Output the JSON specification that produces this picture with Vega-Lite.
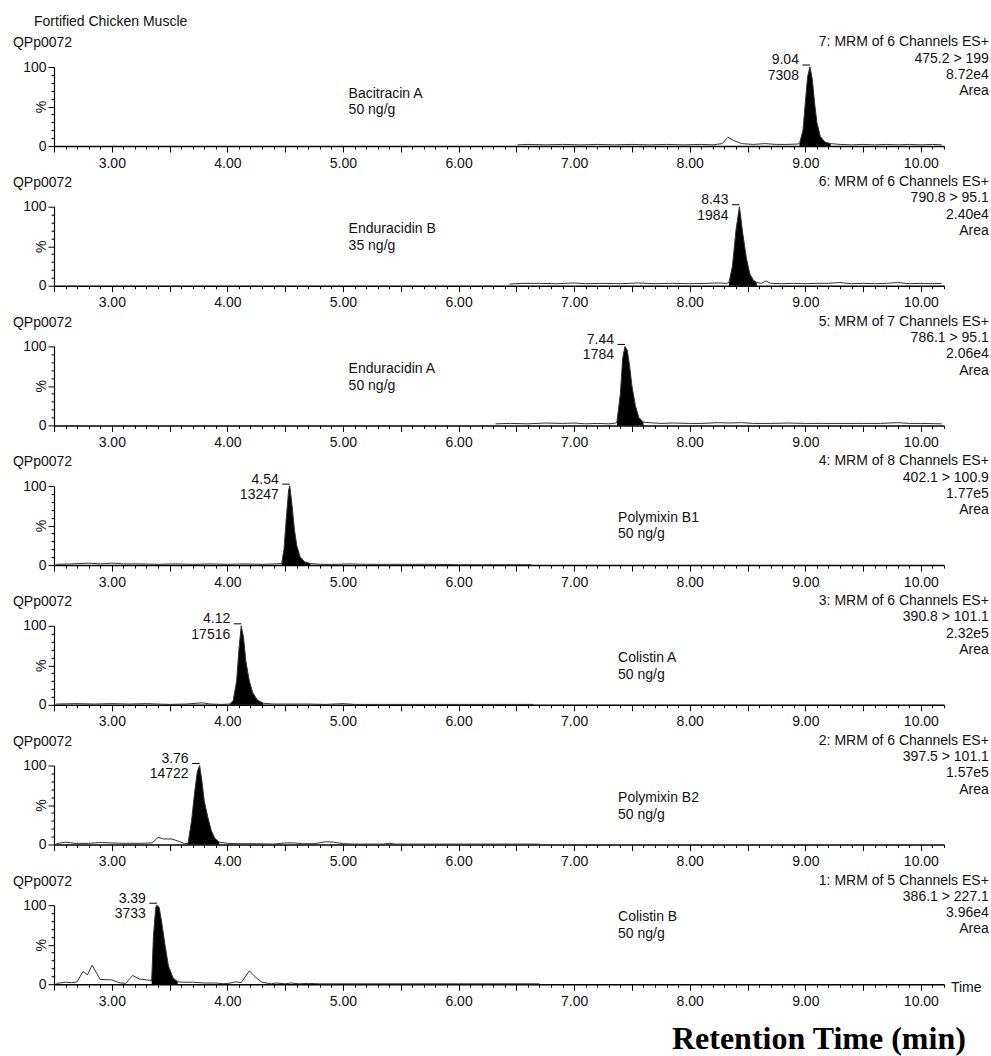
{
 "$schema": "https://vega.github.io/schema/vega-lite/v6.json",
 "padding": {"left": 12, "top": 15, "right": 0, "bottom": 0},
 "background": "white",
 "config": {"view": {"stroke": null}, "font": "Liberation Sans"},
 "data": {"values": [
  {"p":1,"k":"tr","t":6.51,"v":1.5},{"p":1,"k":"tr","t":6.6,"v":2},{"p":1,"k":"tr","t":6.75,"v":1.5},{"p":1,"k":"tr","t":6.9,"v":2},{"p":1,"k":"tr","t":7.05,"v":1.5},{"p":1,"k":"tr","t":7.2,"v":2},{"p":1,"k":"tr","t":7.35,"v":1.5},{"p":1,"k":"tr","t":7.5,"v":2},{"p":1,"k":"tr","t":7.65,"v":1.5},{"p":1,"k":"tr","t":7.8,"v":2},{"p":1,"k":"tr","t":7.95,"v":1.5},{"p":1,"k":"tr","t":8.1,"v":2},{"p":1,"k":"tr","t":8.2,"v":1.5},{"p":1,"k":"tr","t":8.28,"v":3},{"p":1,"k":"tr","t":8.33,"v":11},{"p":1,"k":"tr","t":8.38,"v":7},{"p":1,"k":"tr","t":8.45,"v":3},{"p":1,"k":"tr","t":8.55,"v":2},{"p":1,"k":"tr","t":8.65,"v":3},{"p":1,"k":"tr","t":8.75,"v":2},{"p":1,"k":"tr","t":8.85,"v":2},{"p":1,"k":"tr","t":8.93,"v":2.5},
  {"p":1,"k":"tr","t":8.95,"v":3,"f":1},{"p":1,"k":"tr","t":8.98,"v":20,"f":1},{"p":1,"k":"tr","t":9.0,"v":55,"f":1},{"p":1,"k":"tr","t":9.02,"v":88,"f":1},{"p":1,"k":"tr","t":9.04,"v":100,"f":1},{"p":1,"k":"tr","t":9.06,"v":85,"f":1},{"p":1,"k":"tr","t":9.08,"v":55,"f":1},{"p":1,"k":"tr","t":9.1,"v":30,"f":1},{"p":1,"k":"tr","t":9.13,"v":12,"f":1},{"p":1,"k":"tr","t":9.17,"v":5,"f":1},{"p":1,"k":"tr","t":9.22,"v":3,"f":1},
  {"p":1,"k":"tr","t":9.3,"v":2},{"p":1,"k":"tr","t":9.4,"v":1.5},{"p":1,"k":"tr","t":9.5,"v":2},{"p":1,"k":"tr","t":9.6,"v":1.5},{"p":1,"k":"tr","t":9.7,"v":2},{"p":1,"k":"tr","t":9.8,"v":1.5},{"p":1,"k":"tr","t":9.9,"v":2},{"p":1,"k":"tr","t":10.0,"v":1.5},{"p":1,"k":"tr","t":10.1,"v":2},{"p":1,"k":"tr","t":10.18,"v":1.5},

  {"p":2,"k":"tr","t":6.44,"v":2},{"p":2,"k":"tr","t":6.55,"v":3},{"p":2,"k":"tr","t":6.7,"v":3},{"p":2,"k":"tr","t":6.85,"v":2.5},{"p":2,"k":"tr","t":7.0,"v":3.5},{"p":2,"k":"tr","t":7.1,"v":2.5},{"p":2,"k":"tr","t":7.25,"v":3},{"p":2,"k":"tr","t":7.4,"v":2.5},{"p":2,"k":"tr","t":7.55,"v":3.5},{"p":2,"k":"tr","t":7.7,"v":2.5},{"p":2,"k":"tr","t":7.85,"v":3},{"p":2,"k":"tr","t":8.0,"v":2.5},{"p":2,"k":"tr","t":8.15,"v":3},{"p":2,"k":"tr","t":8.25,"v":3.5},{"p":2,"k":"tr","t":8.32,"v":3},
  {"p":2,"k":"tr","t":8.34,"v":4,"f":1},{"p":2,"k":"tr","t":8.37,"v":25,"f":1},{"p":2,"k":"tr","t":8.4,"v":70,"f":1},{"p":2,"k":"tr","t":8.43,"v":100,"f":1},{"p":2,"k":"tr","t":8.46,"v":65,"f":1},{"p":2,"k":"tr","t":8.49,"v":35,"f":1},{"p":2,"k":"tr","t":8.52,"v":15,"f":1},{"p":2,"k":"tr","t":8.55,"v":7,"f":1},{"p":2,"k":"tr","t":8.58,"v":4,"f":1},
  {"p":2,"k":"tr","t":8.62,"v":3},{"p":2,"k":"tr","t":8.66,"v":6},{"p":2,"k":"tr","t":8.7,"v":3},{"p":2,"k":"tr","t":8.8,"v":2.5},{"p":2,"k":"tr","t":8.9,"v":3},{"p":2,"k":"tr","t":9.0,"v":2.5},{"p":2,"k":"tr","t":9.1,"v":3},{"p":2,"k":"tr","t":9.2,"v":3},{"p":2,"k":"tr","t":9.3,"v":4},{"p":2,"k":"tr","t":9.4,"v":2.5},{"p":2,"k":"tr","t":9.5,"v":3},{"p":2,"k":"tr","t":9.6,"v":2.5},{"p":2,"k":"tr","t":9.7,"v":3},{"p":2,"k":"tr","t":9.8,"v":4},{"p":2,"k":"tr","t":9.9,"v":2.5},{"p":2,"k":"tr","t":10.0,"v":3},{"p":2,"k":"tr","t":10.1,"v":2.5},{"p":2,"k":"tr","t":10.18,"v":3},

  {"p":3,"k":"tr","t":6.32,"v":2},{"p":3,"k":"tr","t":6.45,"v":2.5},{"p":3,"k":"tr","t":6.6,"v":2},{"p":3,"k":"tr","t":6.75,"v":3},{"p":3,"k":"tr","t":6.9,"v":2.5},{"p":3,"k":"tr","t":7.0,"v":3},{"p":3,"k":"tr","t":7.1,"v":2},{"p":3,"k":"tr","t":7.2,"v":2.5},{"p":3,"k":"tr","t":7.3,"v":2},{"p":3,"k":"tr","t":7.35,"v":2.5},
  {"p":3,"k":"tr","t":7.37,"v":4,"f":1},{"p":3,"k":"tr","t":7.4,"v":40,"f":1},{"p":3,"k":"tr","t":7.42,"v":85,"f":1},{"p":3,"k":"tr","t":7.44,"v":100,"f":1},{"p":3,"k":"tr","t":7.46,"v":95,"f":1},{"p":3,"k":"tr","t":7.48,"v":75,"f":1},{"p":3,"k":"tr","t":7.5,"v":50,"f":1},{"p":3,"k":"tr","t":7.53,"v":25,"f":1},{"p":3,"k":"tr","t":7.56,"v":10,"f":1},{"p":3,"k":"tr","t":7.6,"v":4,"f":1},
  {"p":3,"k":"tr","t":7.65,"v":3.5},{"p":3,"k":"tr","t":7.75,"v":2.5},{"p":3,"k":"tr","t":7.85,"v":3},{"p":3,"k":"tr","t":8.0,"v":2.5},{"p":3,"k":"tr","t":8.1,"v":2.5},{"p":3,"k":"tr","t":8.25,"v":3.5},{"p":3,"k":"tr","t":8.35,"v":3},{"p":3,"k":"tr","t":8.45,"v":3.5},{"p":3,"k":"tr","t":8.55,"v":2.5},{"p":3,"k":"tr","t":8.7,"v":2.5},{"p":3,"k":"tr","t":8.85,"v":3},{"p":3,"k":"tr","t":9.0,"v":2.5},{"p":3,"k":"tr","t":9.15,"v":2.5},{"p":3,"k":"tr","t":9.3,"v":2.5},{"p":3,"k":"tr","t":9.5,"v":2.5},{"p":3,"k":"tr","t":9.65,"v":2.5},{"p":3,"k":"tr","t":9.8,"v":3.5},{"p":3,"k":"tr","t":9.9,"v":2.5},{"p":3,"k":"tr","t":10.0,"v":2.5},{"p":3,"k":"tr","t":10.18,"v":2},

  {"p":4,"k":"tr","t":2.52,"v":1},{"p":4,"k":"tr","t":2.65,"v":1.5},{"p":4,"k":"tr","t":2.8,"v":2.5},{"p":4,"k":"tr","t":2.9,"v":1.5},{"p":4,"k":"tr","t":3.0,"v":2.5},{"p":4,"k":"tr","t":3.1,"v":1.5},{"p":4,"k":"tr","t":3.25,"v":1.5},{"p":4,"k":"tr","t":3.4,"v":1},{"p":4,"k":"tr","t":3.55,"v":1.5},{"p":4,"k":"tr","t":3.7,"v":1},{"p":4,"k":"tr","t":3.85,"v":1.5},{"p":4,"k":"tr","t":4.0,"v":1},{"p":4,"k":"tr","t":4.15,"v":1.5},{"p":4,"k":"tr","t":4.3,"v":1},{"p":4,"k":"tr","t":4.42,"v":1.5},
  {"p":4,"k":"tr","t":4.47,"v":2,"f":1},{"p":4,"k":"tr","t":4.49,"v":20,"f":1},{"p":4,"k":"tr","t":4.51,"v":60,"f":1},{"p":4,"k":"tr","t":4.53,"v":95,"f":1},{"p":4,"k":"tr","t":4.54,"v":100,"f":1},{"p":4,"k":"tr","t":4.56,"v":75,"f":1},{"p":4,"k":"tr","t":4.58,"v":45,"f":1},{"p":4,"k":"tr","t":4.6,"v":25,"f":1},{"p":4,"k":"tr","t":4.63,"v":10,"f":1},{"p":4,"k":"tr","t":4.67,"v":4,"f":1},{"p":4,"k":"tr","t":4.72,"v":2,"f":1},
  {"p":4,"k":"tr","t":4.8,"v":1},{"p":4,"k":"tr","t":4.95,"v":1},{"p":4,"k":"tr","t":5.05,"v":1.5},{"p":4,"k":"tr","t":5.2,"v":1},{"p":4,"k":"tr","t":5.4,"v":1},{"p":4,"k":"tr","t":5.6,"v":1},{"p":4,"k":"tr","t":5.8,"v":1},{"p":4,"k":"tr","t":6.0,"v":0.5},{"p":4,"k":"tr","t":6.2,"v":0.5},{"p":4,"k":"tr","t":6.4,"v":0.5},{"p":4,"k":"tr","t":6.63,"v":0.5},

  {"p":5,"k":"tr","t":2.52,"v":1},{"p":5,"k":"tr","t":2.7,"v":1.5},{"p":5,"k":"tr","t":2.85,"v":1},{"p":5,"k":"tr","t":3.0,"v":1.5},{"p":5,"k":"tr","t":3.15,"v":1},{"p":5,"k":"tr","t":3.3,"v":1.5},{"p":5,"k":"tr","t":3.4,"v":1},{"p":5,"k":"tr","t":3.5,"v":0.5},{"p":5,"k":"tr","t":3.65,"v":1},{"p":5,"k":"tr","t":3.78,"v":2.5},{"p":5,"k":"tr","t":3.85,"v":1},{"p":5,"k":"tr","t":3.95,"v":0.5},
  {"p":5,"k":"tr","t":4.02,"v":1,"f":1},{"p":5,"k":"tr","t":4.05,"v":5,"f":1},{"p":5,"k":"tr","t":4.08,"v":30,"f":1},{"p":5,"k":"tr","t":4.1,"v":70,"f":1},{"p":5,"k":"tr","t":4.12,"v":100,"f":1},{"p":5,"k":"tr","t":4.14,"v":85,"f":1},{"p":5,"k":"tr","t":4.16,"v":55,"f":1},{"p":5,"k":"tr","t":4.19,"v":30,"f":1},{"p":5,"k":"tr","t":4.22,"v":15,"f":1},{"p":5,"k":"tr","t":4.26,"v":6,"f":1},{"p":5,"k":"tr","t":4.31,"v":2,"f":1},
  {"p":5,"k":"tr","t":4.4,"v":1},{"p":5,"k":"tr","t":4.55,"v":1},{"p":5,"k":"tr","t":4.7,"v":1},{"p":5,"k":"tr","t":4.85,"v":0.5},{"p":5,"k":"tr","t":5.0,"v":1.5},{"p":5,"k":"tr","t":5.1,"v":0.5},{"p":5,"k":"tr","t":5.3,"v":0.5},{"p":5,"k":"tr","t":5.6,"v":0.5},{"p":5,"k":"tr","t":6.0,"v":0.5},{"p":5,"k":"tr","t":6.3,"v":0.5},{"p":5,"k":"tr","t":6.65,"v":0.5},

  {"p":6,"k":"tr","t":2.52,"v":1},{"p":6,"k":"tr","t":2.6,"v":3},{"p":6,"k":"tr","t":2.68,"v":1.5},{"p":6,"k":"tr","t":2.8,"v":1.5},{"p":6,"k":"tr","t":2.9,"v":2.5},{"p":6,"k":"tr","t":3.0,"v":2},{"p":6,"k":"tr","t":3.1,"v":1.5},{"p":6,"k":"tr","t":3.25,"v":1.5},{"p":6,"k":"tr","t":3.35,"v":2},{"p":6,"k":"tr","t":3.4,"v":9},{"p":6,"k":"tr","t":3.45,"v":7},{"p":6,"k":"tr","t":3.52,"v":7},{"p":6,"k":"tr","t":3.58,"v":4},{"p":6,"k":"tr","t":3.63,"v":1},
  {"p":6,"k":"tr","t":3.66,"v":1.5,"f":1},{"p":6,"k":"tr","t":3.69,"v":30,"f":1},{"p":6,"k":"tr","t":3.72,"v":70,"f":1},{"p":6,"k":"tr","t":3.74,"v":92,"f":1},{"p":6,"k":"tr","t":3.76,"v":100,"f":1},{"p":6,"k":"tr","t":3.78,"v":80,"f":1},{"p":6,"k":"tr","t":3.8,"v":55,"f":1},{"p":6,"k":"tr","t":3.83,"v":35,"f":1},{"p":6,"k":"tr","t":3.86,"v":18,"f":1},{"p":6,"k":"tr","t":3.89,"v":8,"f":1},{"p":6,"k":"tr","t":3.93,"v":3,"f":1},
  {"p":6,"k":"tr","t":4.0,"v":1.5},{"p":6,"k":"tr","t":4.1,"v":1},{"p":6,"k":"tr","t":4.25,"v":1},{"p":6,"k":"tr","t":4.4,"v":0.5},{"p":6,"k":"tr","t":4.5,"v":2},{"p":6,"k":"tr","t":4.58,"v":2},{"p":6,"k":"tr","t":4.65,"v":1},{"p":6,"k":"tr","t":4.75,"v":1},{"p":6,"k":"tr","t":4.85,"v":3.5},{"p":6,"k":"tr","t":4.92,"v":3},{"p":6,"k":"tr","t":5.0,"v":1},{"p":6,"k":"tr","t":5.1,"v":0.5},{"p":6,"k":"tr","t":5.35,"v":0.5},{"p":6,"k":"tr","t":5.4,"v":1.5},{"p":6,"k":"tr","t":5.45,"v":0.5},{"p":6,"k":"tr","t":5.7,"v":0.5},{"p":6,"k":"tr","t":6.0,"v":0.5},{"p":6,"k":"tr","t":6.35,"v":0.5},{"p":6,"k":"tr","t":6.7,"v":0.5},

  {"p":7,"k":"tr","t":2.52,"v":1},{"p":7,"k":"tr","t":2.6,"v":2.5},{"p":7,"k":"tr","t":2.65,"v":2},{"p":7,"k":"tr","t":2.7,"v":3},{"p":7,"k":"tr","t":2.75,"v":16},{"p":7,"k":"tr","t":2.79,"v":12},{"p":7,"k":"tr","t":2.83,"v":24},{"p":7,"k":"tr","t":2.9,"v":6},{"p":7,"k":"tr","t":3.0,"v":5.5},{"p":7,"k":"tr","t":3.06,"v":2},{"p":7,"k":"tr","t":3.12,"v":1},{"p":7,"k":"tr","t":3.18,"v":11},{"p":7,"k":"tr","t":3.24,"v":6.5},{"p":7,"k":"tr","t":3.3,"v":5.5},{"p":7,"k":"tr","t":3.33,"v":5},
  {"p":7,"k":"tr","t":3.345,"v":4,"f":1},{"p":7,"k":"tr","t":3.36,"v":60,"f":1},{"p":7,"k":"tr","t":3.38,"v":97,"f":1},{"p":7,"k":"tr","t":3.39,"v":100,"f":1},{"p":7,"k":"tr","t":3.41,"v":97,"f":1},{"p":7,"k":"tr","t":3.43,"v":80,"f":1},{"p":7,"k":"tr","t":3.46,"v":50,"f":1},{"p":7,"k":"tr","t":3.49,"v":23,"f":1},{"p":7,"k":"tr","t":3.53,"v":8,"f":1},{"p":7,"k":"tr","t":3.57,"v":3,"f":1},
  {"p":7,"k":"tr","t":3.62,"v":2.5},{"p":7,"k":"tr","t":3.7,"v":2.5},{"p":7,"k":"tr","t":3.8,"v":1.5},{"p":7,"k":"tr","t":3.9,"v":1.5},{"p":7,"k":"tr","t":3.97,"v":0.5},{"p":7,"k":"tr","t":4.03,"v":1.5},{"p":7,"k":"tr","t":4.07,"v":3},{"p":7,"k":"tr","t":4.12,"v":2},{"p":7,"k":"tr","t":4.19,"v":17},{"p":7,"k":"tr","t":4.25,"v":8},{"p":7,"k":"tr","t":4.3,"v":2.5},{"p":7,"k":"tr","t":4.38,"v":0.5},{"p":7,"k":"tr","t":4.42,"v":1.5},{"p":7,"k":"tr","t":4.5,"v":0.5},{"p":7,"k":"tr","t":4.55,"v":1.5},{"p":7,"k":"tr","t":4.62,"v":0.5},{"p":7,"k":"tr","t":4.7,"v":1},{"p":7,"k":"tr","t":4.8,"v":0.5},{"p":7,"k":"tr","t":5.0,"v":0.5},{"p":7,"k":"tr","t":5.5,"v":0.5},{"p":7,"k":"tr","t":6.0,"v":0.5},{"p":7,"k":"tr","t":6.7,"v":0.5},

  {"p":1,"k":"L","t":2.327,"v":151.5,"s":"Fortified Chicken Muscle"},
  {"p":1,"k":"L","t":2.145,"v":124.9,"s":"QPp0072"},{"p":2,"k":"L","t":2.145,"v":124.9,"s":"QPp0072"},{"p":3,"k":"L","t":2.145,"v":124.9,"s":"QPp0072"},{"p":4,"k":"L","t":2.145,"v":124.9,"s":"QPp0072"},{"p":5,"k":"L","t":2.145,"v":124.9,"s":"QPp0072"},{"p":6,"k":"L","t":2.145,"v":124.9,"s":"QPp0072"},{"p":7,"k":"L","t":2.145,"v":124.9,"s":"QPp0072"},
  {"p":1,"k":"L","t":5.049,"v":60.8,"s":"Bacitracin A"},{"p":1,"k":"L","t":5.049,"v":39.9,"s":"50 ng/g"},
  {"p":2,"k":"L","t":5.049,"v":66.3,"s":"Enduracidin B"},{"p":2,"k":"L","t":5.049,"v":45.4,"s":"35 ng/g"},
  {"p":3,"k":"L","t":5.049,"v":65.9,"s":"Enduracidin A"},{"p":3,"k":"L","t":5.049,"v":45,"s":"50 ng/g"},
  {"p":4,"k":"L","t":7.38,"v":54.6,"s":"Polymixin B1"},{"p":4,"k":"L","t":7.38,"v":33.7,"s":"50 ng/g"},
  {"p":5,"k":"L","t":7.38,"v":53.8,"s":"Colistin A"},{"p":5,"k":"L","t":7.38,"v":32.9,"s":"50 ng/g"},
  {"p":6,"k":"L","t":7.38,"v":53.4,"s":"Polymixin B2"},{"p":6,"k":"L","t":7.38,"v":32.5,"s":"50 ng/g"},
  {"p":7,"k":"L","t":7.38,"v":79.6,"s":"Colistin B"},{"p":7,"k":"L","t":7.38,"v":58.7,"s":"50 ng/g"},
  {"p":7,"k":"L","t":10.26,"v":-9.5,"s":"Time"},

  {"p":1,"k":"R","t":10.588,"v":126.2,"s":"7: MRM of 6 Channels ES+"},{"p":1,"k":"R","t":10.588,"v":105.6,"s":"475.2 > 199"},{"p":1,"k":"R","t":10.588,"v":85,"s":"8.72e4"},{"p":1,"k":"R","t":10.588,"v":64.4,"s":"Area"},
  {"p":2,"k":"R","t":10.588,"v":126.2,"s":"6: MRM of 6 Channels ES+"},{"p":2,"k":"R","t":10.588,"v":105.6,"s":"790.8 > 95.1"},{"p":2,"k":"R","t":10.588,"v":85,"s":"2.40e4"},{"p":2,"k":"R","t":10.588,"v":64.4,"s":"Area"},
  {"p":3,"k":"R","t":10.588,"v":126.2,"s":"5: MRM of 7 Channels ES+"},{"p":3,"k":"R","t":10.588,"v":105.6,"s":"786.1 > 95.1"},{"p":3,"k":"R","t":10.588,"v":85,"s":"2.06e4"},{"p":3,"k":"R","t":10.588,"v":64.4,"s":"Area"},
  {"p":4,"k":"R","t":10.588,"v":126.2,"s":"4: MRM of 8 Channels ES+"},{"p":4,"k":"R","t":10.588,"v":105.6,"s":"402.1 > 100.9"},{"p":4,"k":"R","t":10.588,"v":85,"s":"1.77e5"},{"p":4,"k":"R","t":10.588,"v":64.4,"s":"Area"},
  {"p":5,"k":"R","t":10.588,"v":126.2,"s":"3: MRM of 6 Channels ES+"},{"p":5,"k":"R","t":10.588,"v":105.6,"s":"390.8 > 101.1"},{"p":5,"k":"R","t":10.588,"v":85,"s":"2.32e5"},{"p":5,"k":"R","t":10.588,"v":64.4,"s":"Area"},
  {"p":6,"k":"R","t":10.588,"v":126.2,"s":"2: MRM of 6 Channels ES+"},{"p":6,"k":"R","t":10.588,"v":105.6,"s":"397.5 > 101.1"},{"p":6,"k":"R","t":10.588,"v":85,"s":"1.57e5"},{"p":6,"k":"R","t":10.588,"v":64.4,"s":"Area"},
  {"p":7,"k":"R","t":10.588,"v":126.2,"s":"1: MRM of 5 Channels ES+"},{"p":7,"k":"R","t":10.588,"v":105.6,"s":"386.1 > 227.1"},{"p":7,"k":"R","t":10.588,"v":85,"s":"3.96e4"},{"p":7,"k":"R","t":10.588,"v":64.4,"s":"Area"},

  {"p":1,"k":"R","t":8.945,"v":103.2,"s":"9.04"},{"p":1,"k":"R","t":8.945,"v":83.6,"s":"7308"},
  {"p":2,"k":"R","t":8.335,"v":103.2,"s":"8.43"},{"p":2,"k":"R","t":8.335,"v":83.6,"s":"1984"},
  {"p":3,"k":"R","t":7.345,"v":103.2,"s":"7.44"},{"p":3,"k":"R","t":7.345,"v":83.6,"s":"1784"},
  {"p":4,"k":"R","t":4.445,"v":103.2,"s":"4.54"},{"p":4,"k":"R","t":4.445,"v":83.6,"s":"13247"},
  {"p":5,"k":"R","t":4.025,"v":103.2,"s":"4.12"},{"p":5,"k":"R","t":4.025,"v":83.6,"s":"17516"},
  {"p":6,"k":"R","t":3.665,"v":103.2,"s":"3.76"},{"p":6,"k":"R","t":3.665,"v":83.6,"s":"14722"},
  {"p":7,"k":"R","t":3.295,"v":103.2,"s":"3.39"},{"p":7,"k":"R","t":3.295,"v":83.6,"s":"3733"},

  {"p":1,"k":"d","t":8.975,"t2":9.04,"v":102.5},{"p":2,"k":"d","t":8.365,"t2":8.43,"v":102.5},{"p":3,"k":"d","t":7.375,"t2":7.44,"v":102.5},{"p":4,"k":"d","t":4.475,"t2":4.54,"v":102.5},{"p":5,"k":"d","t":4.055,"t2":4.12,"v":102.5},{"p":6,"k":"d","t":3.695,"t2":3.76,"v":102.5},{"p":7,"k":"d","t":3.325,"t2":3.39,"v":102.5},

  {"p":7,"k":"B","t":10.389,"v":-82.5,"s":"Retention Time (min)"}
 ]},
 "facet": {"row": {"field": "p", "type": "ordinal", "header": null}},
 "spacing": {"row": 60.7},
 "bounds": "flush",
 "resolve": {"axis": {"x": "independent", "y": "independent"}},
 "spec": {
  "width": 890,
  "height": 79,
  "encoding": {
   "x": {"field": "t", "type": "quantitative",
    "scale": {"domain": [2.5, 10.2], "nice": false, "zero": false},
    "axis": {
     "values": [2.5,2.6,2.7,2.8,2.9,3,3.1,3.2,3.3,3.4,3.5,3.6,3.7,3.8,3.9,4,4.1,4.2,4.3,4.4,4.5,4.6,4.7,4.8,4.9,5,5.1,5.2,5.3,5.4,5.5,5.6,5.7,5.8,5.9,6,6.1,6.2,6.3,6.4,6.5,6.6,6.7,6.8,6.9,7,7.1,7.2,7.3,7.4,7.5,7.6,7.7,7.8,7.9,8,8.1,8.2,8.3,8.4,8.5,8.6,8.7,8.8,8.9,9,9.1,9.2,9.3,9.4,9.5,9.6,9.7,9.8,9.9,10,10.1,10.2],
     "tickSize": {"condition": {"test": "abs(datum.value*2 - round(datum.value*2)) < 0.01", "value": 6}, "value": 3},
     "labelExpr": "abs(datum.value - round(datum.value)) < 0.01 ? format(datum.value, '.2f') : ''",
     "labelOverlap": false, "labelFlush": false, "labelBound": false,
     "labelPadding": 4, "labelFont": "Liberation Sans", "labelFontSize": 14, "labelColor": "#111",
     "domainColor": "#000", "domainWidth": 1.5, "tickColor": "#000", "tickWidth": 1,
     "grid": false, "title": null
    }
   },
   "y": {"field": "v", "type": "quantitative",
    "scale": {"domain": [0, 100], "nice": false},
    "axis": {
     "values": [0,10,20,30,40,50,60,70,80,90,100],
     "tickSize": {"condition": {"test": "datum.value % 50 == 0", "value": 6}, "value": 3},
     "labelExpr": "datum.value == 0 || datum.value == 100 ? datum.label : ''",
     "labelOverlap": false, "labelPadding": 2, "labelFont": "Liberation Sans", "labelFontSize": 14, "labelColor": "#111",
     "domainColor": "#000", "domainWidth": 1.2, "tickColor": "#000", "tickWidth": 1, "grid": false,
     "title": "%", "titleX": -13, "titleY": 39.5, "titleAngle": -90, "titleAlign": "center", "titleBaseline": "middle",
     "titleFont": "Liberation Sans", "titleFontSize": 14, "titleFontWeight": "normal", "titleColor": "#111"
    }
   }
  },
  "layer": [
   {"transform": [{"filter": "datum.k == 'tr' && datum.f == 1"}], "mark": {"type": "area", "color": "#000", "stroke": null}},
   {"transform": [{"filter": "datum.k == 'tr'"}], "mark": {"type": "line", "color": "#333", "strokeWidth": 1}},
   {"transform": [{"filter": "datum.k == 'd'"}], "mark": {"type": "rule", "color": "#000", "strokeWidth": 1}, "encoding": {"x2": {"field": "t2"}}},
   {"transform": [{"filter": "datum.k == 'L'"}], "mark": {"type": "text", "align": "left", "baseline": "alphabetic", "font": "Liberation Sans", "fontSize": 14, "color": "#111"}, "encoding": {"text": {"field": "s"}}},
   {"transform": [{"filter": "datum.k == 'R'"}], "mark": {"type": "text", "align": "right", "baseline": "alphabetic", "font": "Liberation Sans", "fontSize": 14, "color": "#111"}, "encoding": {"text": {"field": "s"}}},
   {"transform": [{"filter": "datum.k == 'B'"}], "mark": {"type": "text", "align": "right", "baseline": "alphabetic", "font": "Liberation Serif", "fontSize": 32, "fontWeight": "bold", "color": "#000"}, "encoding": {"text": {"field": "s"}}}
  ]
 }
}
